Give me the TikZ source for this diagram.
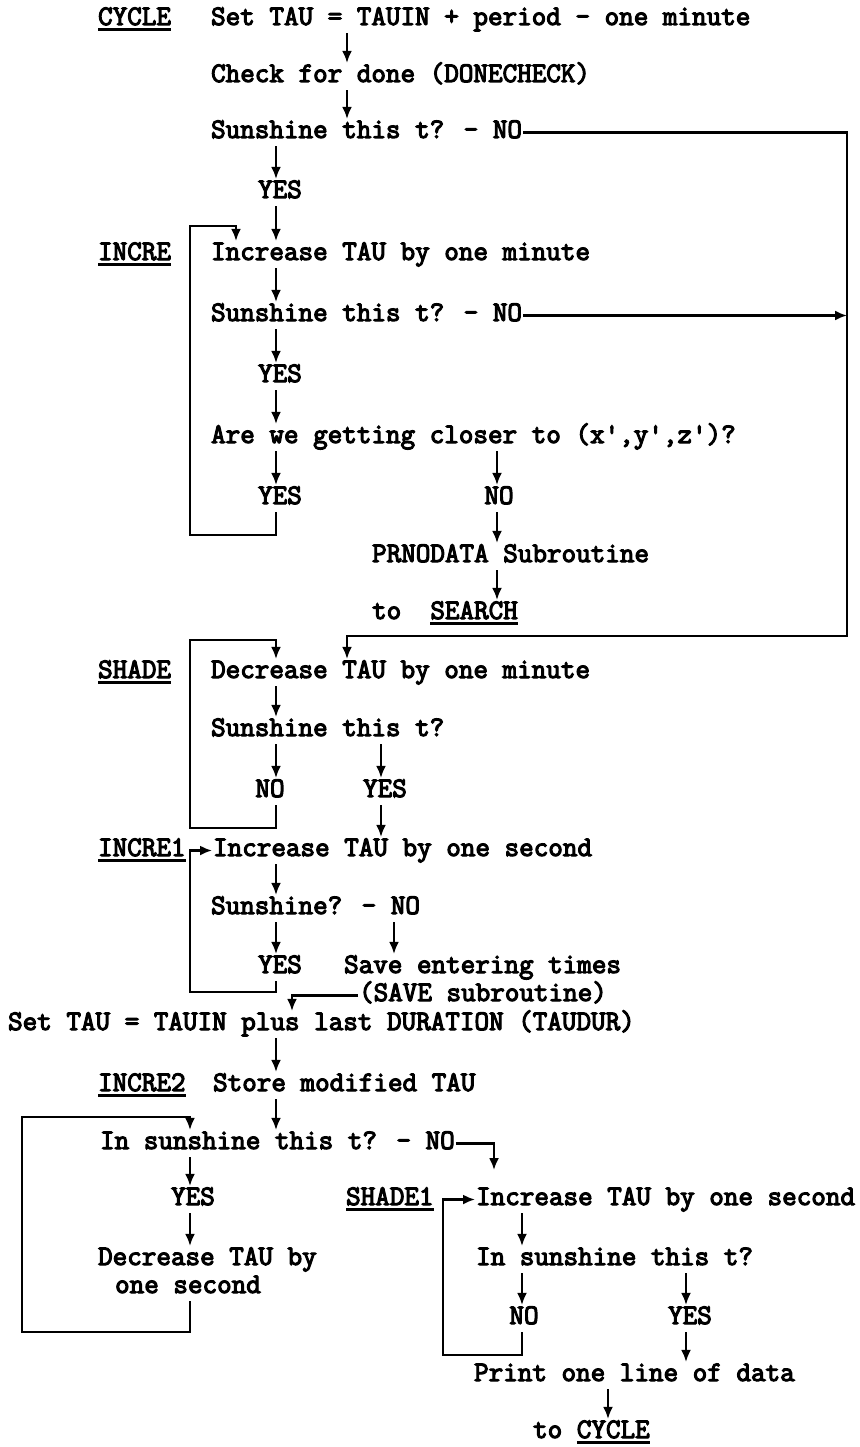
\documentclass[tikz,border=0pt]{standalone}
\usepackage{fontspec}
\newfontfamily\typew{Latin Modern Mono}[FakeBold=4]
\usetikzlibrary{calc,arrows.meta}

\newcommand{\ulab}[1]{\setbox0=\hbox{#1}\rlap{\rule[-6pt]{\wd0}{2.8pt}}\box0}

\begin{document}
\begin{tikzpicture}[
    x=1pt, y=-1pt,
    line width=2.2pt,
    font={\typew\fontsize{28.3}{32}\selectfont},
    txt/.style={inner xsep=0pt, inner ysep=2pt, text height=16pt, text depth=5pt, anchor=base west},
    ans/.style={txt, anchor=base},
    arr/.style={-{Latex[length=12pt,width=10pt]}}
]
    \useasboundingbox (0,0) rectangle (859,1447);

    % Columns used by the arrows
    \coordinate (xA) at (347,0);
    \coordinate (xB) at (276,0);
    \coordinate (xR) at (847,0);
    \coordinate (xL) at (190,0);
    \coordinate (xI) at (236,0);
    \coordinate (xN) at (497,0);
    \coordinate (xY) at (381,0);
    \coordinate (xS) at (394,0);
    \coordinate (xP) at (292,0);
    \coordinate (xH) at (443,0);
    \coordinate (xK) at (522,0);
    \coordinate (xM) at (686,0);
    \coordinate (xQ) at (608,0);

    % Loop corners
    \coordinate (itop) at (190,226);
    \coordinate (ibot) at (190,535);
    \coordinate (rcorner) at (847,636);
    \coordinate (stop) at (190,640);
    \coordinate (sbot) at (190,828);
    \coordinate (i1bot) at (190,992);
    \coordinate (ftop) at (22,1117);
    \coordinate (fbot) at (22,1332);
    \coordinate (nodrop) at (494,1170);
    \coordinate (h1bot) at (443,1355);

    % CYCLE
    \node[txt] (cyclelbl) at (97,25) {\ulab{CYCLE}};
    \node[txt] (settau) at (210,25) {Set TAU = TAUIN + period - one minute};
    \node[txt] (check) at (210,82) {Check for done (DONECHECK)};
    \node[txt] (sun1) at (210,138) {Sunshine this t? - NO};
    \node[ans] (yes1) at (280,198) {YES};

    % INCRE
    \node[txt] (increlbl) at (97,260) {\ulab{INCRE}};
    \node[txt] (incmin) at (210,260) {Increase TAU by one minute};
    \node[txt] (sun2) at (210,321) {Sunshine this t? - NO};
    \node[ans] (yes2) at (280,382) {YES};
    \node[txt] (closer) at (210,443) {Are we getting closer to (x',y',z')?};
    \node[ans] (yes3) at (280,504) {YES};
    \node[ans] (no3) at (499,504) {NO};
    \node[txt] (prno) at (371,562) {PRNODATA Subroutine};
    \node[txt] (tosearch) at (371,619) {to~~\ulab{SEARCH}};

    % SHADE
    \node[txt] (shadelbl) at (97,678) {\ulab{SHADE}};
    \node[txt] (decmin) at (210,678) {Decrease TAU by one minute};
    \node[txt] (sun3) at (210,736) {Sunshine this t?};
    \node[ans] (no4) at (270,797) {NO};
    \node[ans] (yes4) at (385,797) {YES};

    % INCRE1
    \node[txt] (incre1lbl) at (97,856) {\ulab{INCRE1}};
    \node[txt] (incsec) at (212,856) {Increase TAU by one second};
    \node[txt] (sun4) at (210,914) {Sunshine? - NO};
    \node[ans] (yes5) at (280,973) {YES};
    \node[txt] (save) at (343,973) {Save entering times};
    \node[txt] (savesub) at (358,1001) {(SAVE subroutine)};
    \node[txt] (settau2) at (7,1030) {Set TAU = TAUIN plus last DURATION (TAUDUR)};

    % INCRE2
    \node[txt] (incre2lbl) at (97,1091) {\ulab{INCRE2}};
    \node[txt] (store) at (212,1091) {Store modified TAU};
    \node[txt] (insun1) at (99,1149) {In sunshine this t? - NO};
    \node[ans] (yes6) at (193,1205) {YES};
    \node[txt] (dec2) at (97,1265) {Decrease TAU by};
    \node[txt] (onesec) at (114,1293) {one second};

    % SHADE1
    \node[txt] (shade1lbl) at (345,1205) {\ulab{SHADE1}};
    \node[txt] (incsec2) at (475,1205) {Increase TAU by one second};
    \node[txt] (insun2) at (475,1265) {In sunshine this t?};
    \node[ans] (no7) at (524,1324) {NO};
    \node[ans] (yes7) at (690,1324) {YES};
    \node[txt] (print) at (473,1381) {Print one line of data};
    \node[txt] (tocycle) at (532,1438) {to \ulab{CYCLE}};

    % Straight arrows
    \draw[arr] (settau.south -| xA) -- (check.north -| xA);
    \draw[arr] (check.south -| xA) -- (sun1.north -| xA);
    \draw[arr] (sun1.south -| xB) -- (yes1.north -| xB);
    \draw[arr] (yes1.south -| xB) -- (incmin.north -| xB);
    \draw[arr] (incmin.south -| xB) -- (sun2.north -| xB);
    \draw[arr] (sun2.south -| xB) -- (yes2.north -| xB);
    \draw[arr] (yes2.south -| xB) -- (closer.north -| xB);
    \draw[arr] (closer.south -| xB) -- (yes3.north -| xB);
    \draw[arr] (closer.south -| xN) -- (no3.north -| xN);
    \draw[arr] (no3.south -| xN) -- (prno.north -| xN);
    \draw[arr] (prno.south -| xN) -- (tosearch.north -| xN);
    \draw[arr] (decmin.south -| xB) -- (sun3.north -| xB);
    \draw[arr] (sun3.south -| xB) -- (no4.north -| xB);
    \draw[arr] (sun3.south -| xY) -- (yes4.north -| xY);
    \draw[arr] (yes4.south -| xY) -- (incsec.north -| xY);
    \draw[arr] (incsec.south -| xB) -- (sun4.north -| xB);
    \draw[arr] (sun4.south -| xB) -- (yes5.north -| xB);
    \draw[arr] (sun4.south -| xS) -- (save.north -| xS);
    \draw[arr] (settau2.south -| xB) -- (store.north -| xB);
    \draw[arr] (store.south -| xB) -- (insun1.north -| xB);
    \draw[arr] (insun1.south -| xL) -- (yes6.north -| xL);
    \draw[arr] (yes6.south -| xL) -- (dec2.north -| xL);
    \draw[arr] (incsec2.south -| xK) -- (insun2.north -| xK);
    \draw[arr] (insun2.south -| xK) -- (no7.north -| xK);
    \draw[arr] (insun2.south -| xM) -- (yes7.north -| xM);
    \draw[arr] (yes7.south -| xM) -- (print.north -| xM);
    \draw[arr] (print.south -| xQ) -- (tocycle.north -| xQ);

    % NO branches
    \draw[arr] (sun1.east) -| (rcorner) -| (decmin.north -| xA);
    \draw[arr] (sun2.east) -- (sun2.east -| xR);
    \draw[arr] (savesub.west) -| (settau2.north -| xP);
    \draw[arr] (insun1.east) -| (nodrop);

    % Loops
    \draw[arr] (yes3.south -| xB) |- (ibot) -- (itop) -| (incmin.north -| xI);
    \draw[arr] (no4.south -| xB) |- (sbot) -- (stop) -| (decmin.north -| xB);
    \draw[arr] (yes5.south -| xB) |- (i1bot) -- (incsec.west -| xL) -- (incsec.west);
    \draw[arr] (onesec.south -| xL) |- (fbot) -- (ftop) -| (insun1.north -| xL);
    \draw[arr] (no7.south -| xK) |- (h1bot) -- (incsec2.west -| xH) -- (incsec2.west);

\end{tikzpicture}
\end{document}
